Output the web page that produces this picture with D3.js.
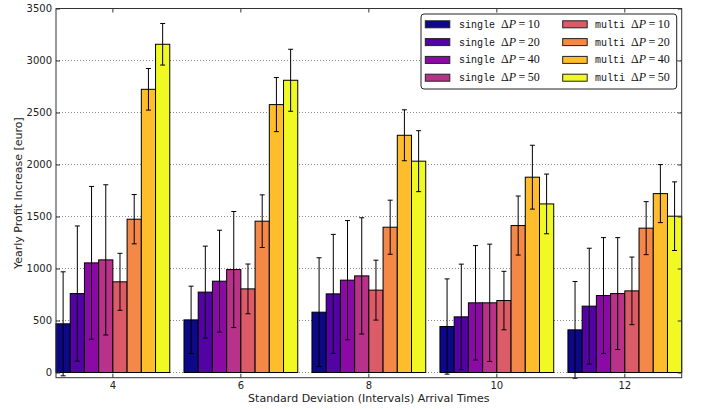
<!DOCTYPE html>
<html>
<head>
<meta charset="utf-8">
<script src="https://cdn.jsdelivr.net/npm/d3@7"></script>
<style>
  html, body { margin: 0; padding: 0; background: #fff; }
  svg { display: block; }
  text { font-family: "DejaVu Sans", sans-serif; }
</style>
</head>
<body>
<svg id="chart" width="702" height="409"></svg>
<script>
// Arrival-time standard deviations (x categories)
const groups = ["4", "6", "8", "10", "12"];

// Mean yearly profit increase per configuration, one value per group
const single10 = [468, 506, 580, 442, 410];
const single20 = [759, 773, 756, 535, 638];
const single40 = [1054, 878, 888, 670, 740];
const single50 = [1083, 990, 929, 670, 759];
const multi10  = [872, 804, 792, 692, 785];
const multi20  = [1474, 1455, 1397, 1413, 1388];
const multi40  = [2723, 2576, 2281, 1878, 1720];
const multi50  = [3156, 2810, 2032, 1621, 1503];

// Standard deviation (error bar half-length)
const single10Err = [500, 324, 523, 458, 465];
const single20Err = [650, 442, 572, 507, 557];
const single40Err = [735, 490, 573, 550, 557];
const single50Err = [722, 558, 559, 564, 538];
const multi10Err  = [274, 239, 288, 281, 325];
const multi20Err  = [237, 253, 260, 284, 255];
const multi40Err  = [200, 260, 245, 307, 279];
const multi50Err  = [200, 298, 293, 287, 330];

const seriesMode = ["single", "single", "single", "single", "multi", "multi", "multi", "multi"];
const seriesDelta = ["10", "20", "40", "50", "10", "20", "40", "50"];
const yTicks = [0, 500, 1000, 1500, 2000, 2500, 3000, 3500];

const seriesValues = [single10, single20, single40, single50, multi10, multi20, multi40, multi50];
const seriesErrors = [single10Err, single20Err, single40Err, single50Err, multi10Err, multi20Err, multi40Err, multi50Err];
const seriesColors = ["#0d0887", "#5302a3", "#8b0aa5", "#b83289", "#db5c68", "#f48849", "#febd2a", "#f0f921"];

const svg = d3.select("#chart");
const plot = { left: 56, right: 681.7, top: 8.5, bottom: 377.7 };

const x = d3.scaleBand().domain(groups).range([plot.left, plot.right]).paddingInner(1 / 9).paddingOuter(0);
const xs = d3.scaleBand().domain(d3.range(seriesValues.length)).range([0, x.bandwidth()]).padding(0);
const y = d3.scaleLinear().domain([-50, 3500]).range([plot.bottom, plot.top]);

// dotted horizontal grid
svg.append("g").selectAll("line").data(yTicks).join("line")
  .attr("x1", plot.left).attr("x2", plot.right)
  .attr("y1", d => y(d)).attr("y2", d => y(d))
  .attr("stroke", "#8a8a8a").attr("stroke-width", 1).attr("stroke-dasharray", "1,2");

// bars
const series = svg.append("g").selectAll("g").data(seriesValues).join("g")
  .attr("fill", (d, i) => seriesColors[i]);
series.each(function (vals, si) {
  d3.select(this).selectAll("rect").data(vals).join("rect")
    .attr("x", (d, gi) => x(groups[gi]) + xs(si))
    .attr("width", xs.bandwidth())
    .attr("y", d => y(d))
    .attr("height", d => y(0) - y(d))
    .attr("stroke", "#000").attr("stroke-width", 1);
});

// error bars
const eb = svg.append("g").attr("stroke", "#000").attr("stroke-width", 1);
seriesValues.forEach((vals, si) => {
  vals.forEach((v, gi) => {
    const cx = x(groups[gi]) + xs(si) + xs.bandwidth() / 2;
    const e = seriesErrors[si][gi];
    const lo = y(v - e), hi = y(v + e);
    eb.append("line").attr("x1", cx).attr("x2", cx).attr("y1", lo).attr("y2", hi);
    eb.append("line").attr("x1", cx - 2.5).attr("x2", cx + 2.5).attr("y1", lo).attr("y2", lo);
    eb.append("line").attr("x1", cx - 2.5).attr("x2", cx + 2.5).attr("y1", hi).attr("y2", hi);
  });
});

// axes (ticks point inward on all four sides)
const styleAxis = g => {
  g.select(".domain").remove();
  g.selectAll(".tick line").attr("stroke", "#333");
  g.selectAll(".tick text").attr("fill", "#222").style("font-family", "DejaVu Sans").style("font-size", "10px");
};
svg.append("g").attr("transform", `translate(${plot.left},0)`)
  .call(d3.axisLeft(y).tickValues(yTicks).tickFormat(d3.format("d")).tickSizeInner(-4).tickSizeOuter(0).tickPadding(4))
  .call(styleAxis);
svg.append("g").attr("transform", `translate(${plot.right},0)`)
  .call(d3.axisRight(y).tickValues(yTicks).tickSizeInner(-4).tickSizeOuter(0).tickFormat(""))
  .call(styleAxis);
svg.append("g").attr("transform", `translate(0,${plot.bottom})`)
  .call(d3.axisBottom(x).tickSizeInner(-4).tickSizeOuter(0).tickPadding(4))
  .call(styleAxis);
svg.append("g").attr("transform", `translate(0,${plot.top})`)
  .call(d3.axisTop(x).tickSizeInner(-4).tickSizeOuter(0).tickFormat(""))
  .call(styleAxis);

// frame
svg.append("rect")
  .attr("x", plot.left).attr("y", plot.top)
  .attr("width", plot.right - plot.left).attr("height", plot.bottom - plot.top)
  .attr("fill", "none").attr("stroke", "#333").attr("stroke-width", 1);

// axis titles
svg.append("text")
  .attr("transform", `translate(18,${(plot.top + plot.bottom) / 2}) rotate(-90)`)
  .attr("text-anchor", "middle").attr("dy", "0.35em")
  .style("font-size", "11px").attr("fill", "#222")
  .text("Yearly Profit Increase [euro]");
svg.append("text")
  .attr("x", (plot.left + plot.right) / 2).attr("y", 398)
  .attr("text-anchor", "middle").attr("dy", "0.35em")
  .style("font-size", "11px").attr("fill", "#222")
  .text("Standard Deviation (Intervals) Arrival Times");

// legend
const legend = svg.append("g");
legend.append("rect")
  .attr("x", 421).attr("y", 14).attr("width", 255.7).attr("height", 75).attr("rx", 3)
  .attr("fill", "#fff").attr("stroke", "#222").attr("stroke-width", 1);
seriesColors.forEach((c, i) => {
  const col = Math.floor(i / 4), row = i % 4;
  const cy = 24.3 + row * 17.8;
  const sx = col === 0 ? 425.3 : 562.7;
  const tx = col === 0 ? 459 : 595;
  legend.append("rect")
    .attr("x", sx).attr("y", cy - 3.5).attr("width", 24.5).attr("height", 7)
    .attr("fill", c).attr("stroke", "#222").attr("stroke-width", 1);
  const t = legend.append("text").attr("x", tx).attr("y", cy + 3.5).attr("fill", "#111");
  t.append("tspan").style("font-family", "Liberation Mono").style("font-size", "10px").text(seriesMode[i]);
  t.append("tspan").style("font-family", "Liberation Serif").style("font-size", "12px").text("\u2002\u0394");
  t.append("tspan").style("font-family", "Liberation Serif").style("font-size", "12px").style("font-style", "italic").text("P");
  t.append("tspan").style("font-family", "Liberation Serif").style("font-size", "12px").text("\u2009=\u2009" + seriesDelta[i]);
});
</script>
</body>
</html>
